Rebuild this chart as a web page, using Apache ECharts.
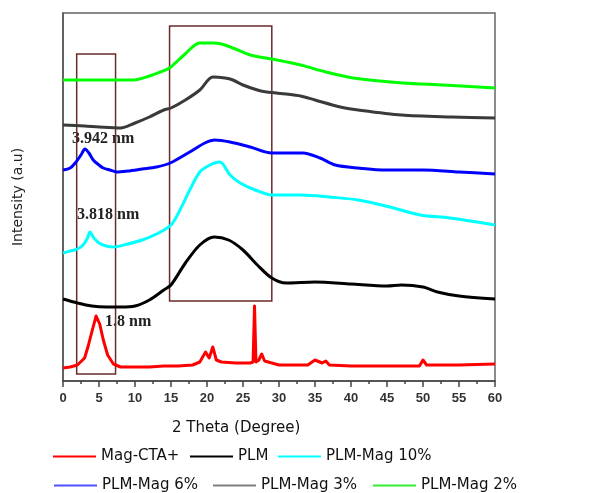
<!DOCTYPE html>
<html>
<head>
<meta charset="utf-8">
<script src="https://cdn.jsdelivr.net/npm/echarts@6/dist/echarts.min.js"></script>
<style>
  html, body { margin: 0; padding: 0; background: #fff; }
  #chart { width: 606px; height: 493px; }
</style>
</head>
<body>
<div id="chart"></div>
<script>
// 2 Theta positions and intensities (a.u., stacked offsets)
const xTicks = [0, 5, 10, 15, 20, 25, 30, 35, 40, 45, 50, 55, 60];

const magX = [0, 1, 2, 3, 3.5, 4, 4.6, 5.1, 5.6, 6.2, 7, 8, 10, 12, 14, 16, 18, 19, 19.8, 20.3, 20.8, 21.3, 22, 24, 26, 26.4, 26.6, 26.8, 27.2, 27.6, 28, 30, 32, 34, 35, 36, 36.5, 37, 40, 45, 49.5, 50, 50.5, 55, 60];
const magY = [13, 14, 16, 23, 35, 49, 65, 57, 41, 26, 17, 14, 14, 14, 15, 15, 16, 19, 29, 23, 34, 21, 19, 18, 18, 19, 75, 19, 21, 27, 20, 16, 16, 16, 21, 18, 20, 16, 15, 15, 15, 21, 16, 16, 17];

const plmX = [0, 2, 4, 6, 8, 10, 12, 14, 15, 17, 19, 21, 23, 25, 27, 29, 31, 35, 40, 45, 47, 50, 52, 55, 60];
const plmY = [82, 78, 75, 74, 74, 75, 81, 91, 96, 118, 136, 144, 141, 131, 116, 103, 98, 99, 97, 95, 96, 94, 89, 85, 82];

const mag10X = [0, 1, 2, 2.8, 3.4, 3.75, 4.2, 5, 6, 7, 9, 11, 13, 15, 16.25, 17.6, 19, 20.4, 21.8, 23.2, 24.6, 26.7, 29, 33, 37, 41, 45.4, 49.6, 53.75, 60];
const mag10Y = [128, 130, 132, 136, 143, 149, 144, 138, 135, 134, 137, 141, 147, 156, 171, 191, 209, 216, 219, 206, 198, 191, 186, 186, 184, 181, 174, 166, 163, 156];

const mag6X = [0, 1, 1.7, 2.5, 3.05, 3.6, 4.2, 5, 5.6, 6.5, 7.5, 9, 11, 13, 14.9, 17.6, 19.7, 21.1, 23.2, 26, 29, 31.5, 33.3, 35.7, 37.8, 41, 45, 50, 55, 60];
const mag6Y = [211, 213, 218, 226, 232, 228, 221, 216, 213, 211, 209, 210, 212, 214, 218, 229, 238, 241, 239, 234, 228, 228, 228, 223, 216, 213, 211, 211, 209, 207];

const mag3X = [0, 3, 5, 8, 10, 12, 14, 15, 17, 19, 20.8, 22.5, 23.6, 25, 27, 28.3, 31, 33, 35, 38.5, 41, 47, 54, 60];
const mag3Y = [256, 255, 254, 253, 258, 264, 271, 273, 281, 291, 304, 303, 301, 296, 291, 289, 287, 285, 281, 274, 271, 266, 264, 263];

const mag2X = [0, 5, 9.8, 12, 13.5, 14.8, 16.8, 19, 20.8, 22, 23.6, 26, 29, 33, 36.5, 40.3, 47.2, 52.8, 60];
const mag2Y = [301, 301, 301, 305, 309, 313, 326, 338, 338, 337, 333, 326, 322, 316, 309, 303, 298, 296, 293];

const names = ['Mag-CTA+', 'PLM', 'PLM-Mag 10%', 'PLM-Mag 6%', 'PLM-Mag 3%', 'PLM-Mag 2%'];
const colors = ['#ff0000', '#000000', '#00ffff', '#0000ff', '#3a3a3a', '#00ff00'];
const legendColors = ['#ff0000', '#000000', '#00ffff', '#5050ff', '#808080', '#33ee33'];
const xs = [magX, plmX, mag10X, mag6X, mag3X, mag2X];
const ys = [magY, plmY, mag10Y, mag6Y, mag3Y, mag2Y];

// legend item positions [left, top]
const legendPos = [[48, 444], [185, 444], [273, 444], [49, 473], [208, 473], [368, 473]];

~function () {
  let myChart = echarts.init(document.getElementById('chart'));

  let series = names.map((n, i) => ({
    name: n,
    type: 'line',
    data: xs[i].map((x, j) => [x, ys[i][j]]),
    showSymbol: false,
    smooth: i === 0 ? false : 0.3,
    lineStyle: { color: colors[i], width: 3, join: 'round' },
    itemStyle: { color: colors[i] },
    z: 3
  }));

  series[0].markArea = {
    silent: true,
    itemStyle: { color: 'rgba(0,0,0,0)', borderColor: '#6b2b2b', borderWidth: 1.5 },
    data: [
      [{ coord: [1.9, 327] }, { coord: [7.3, 7] }],
      [{ coord: [14.8, 355] }, { coord: [29.0, 80] }]
    ]
  };

  let legends = names.map((n, i) => ({
    left: legendPos[i][0],
    top: legendPos[i][1],
    icon: 'rect',
    itemWidth: 43,
    itemHeight: 2,
    selectedMode: false,
    textStyle: { fontFamily: 'DejaVu Sans', fontSize: 15, color: '#111' },
    data: [{ name: n, itemStyle: { color: legendColors[i] } }]
  }));

  let option = {
    animation: false,
    backgroundColor: '#fff',
    grid: {
      left: 63, right: 111, top: 13, bottom: 112,
      show: true, borderColor: '#666', borderWidth: 1.5
    },
    legend: legends,
    xAxis: {
      type: 'value',
      min: 0,
      max: 60,
      interval: 5,
      axisLine: { lineStyle: { color: '#444', width: 1.5 } },
      axisTick: { show: true, length: 6, lineStyle: { color: '#444', width: 1.5 } },
      minorTick: { show: true, splitNumber: 2, length: 3, lineStyle: { color: '#444', width: 1.5 } },
      splitLine: { show: false },
      axisLabel: {
        fontFamily: 'Liberation Sans', fontSize: 13, fontWeight: 'bold', color: '#333', margin: 11,
        formatter: v => xTicks.includes(v) ? String(v) : ''
      }
    },
    yAxis: {
      type: 'value',
      min: 0,
      max: 368,
      name: 'Intensity (a.u)',
      nameLocation: 'middle',
      nameGap: 38,
      nameTextStyle: { fontFamily: 'DejaVu Sans', fontSize: 14, color: '#222' },
      axisLine: { show: true, lineStyle: { color: '#555', width: 1.5 } },
      axisTick: { show: false },
      axisLabel: { show: false },
      splitLine: { show: false }
    },
    graphic: [
      { type: 'text', left: 172, top: 421, style: { text: '2 Theta (Degree)', font: '15px "DejaVu Sans"', fill: '#111' } },
      { type: 'text', left: 72, top: 131, style: { text: '3.942 nm', font: 'bold 16px "Liberation Serif"', fill: '#222' } },
      { type: 'text', left: 77, top: 207, style: { text: '3.818 nm', font: 'bold 16px "Liberation Serif"', fill: '#222' } },
      { type: 'text', left: 105, top: 314, style: { text: '1.8 nm', font: 'bold 16px "Liberation Serif"', fill: '#222' } }
    ],
    series: series
  };
  myChart.setOption(option);
}();
</script>
</body>
</html>
